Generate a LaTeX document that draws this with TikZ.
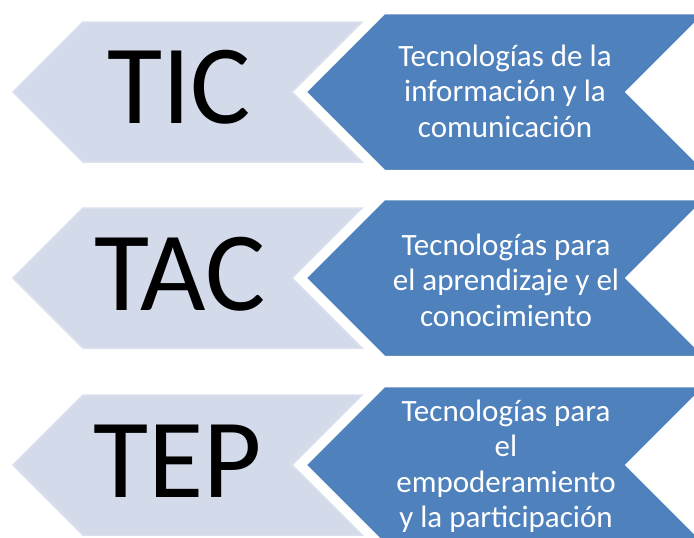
\documentclass[tikz,border=0pt]{standalone}
\usepackage{fontspec}
\setmainfont{Carlito}
\definecolor{lightfill}{RGB}{211,218,233}
\definecolor{lightedge}{RGB}{218,224,238}
\definecolor{darkfill}{RGB}{79,129,189}
\tikzset{
  lightchev/.style={fill=lightfill, draw=lightedge, line width=1.5pt, line join=miter},
  darkchev/.style={fill=darkfill, draw=white, line width=1.5pt, line join=miter},
  bigtext/.style={anchor=base, inner sep=0pt, font=\fontsize{113}{120}\selectfont, text=black},
  smalltext/.style={anchor=center, inner sep=0pt, align=center, text=white, font=\fontsize{31}{35.5}\selectfont}
}
\begin{document}
\begin{tikzpicture}[x=1pt, y=-1pt]
\useasboundingbox (0,0) rectangle (694,538);
\clip (0,0) rectangle (694,538);
\foreach \c in {92,278,465}{
  \draw[lightchev] (13,\c) -- (83,\c-70) -- (362,\c-70) -- (292,\c) -- (362,\c+70) -- (83,\c+70) -- cycle;
  \draw[darkchev] (306,\c) -- (384.5,\c-78.5) -- (704.5,\c-78.5) -- (626,\c) -- (704.5,\c+78.5) -- (384.5,\c+78.5) -- cycle;
}
\node[bigtext] (tic) at (179,123) {TIC};
\node[bigtext] (tac) at (180,310) {TAC};
\node[bigtext] (tep) at (178,497) {TEP};
\node[smalltext] (t1) at (505,91) {Tecnologías de la\\información y la\\comunicación};
\node[smalltext] (t2) at (506,280) {Tecnologías para\\el aprendizaje y el\\conocimiento};
\node[smalltext] (t3) at (506,466) {Tecnologías para\\el\\empoderamiento\\y la participación};
\end{tikzpicture}
\end{document}
